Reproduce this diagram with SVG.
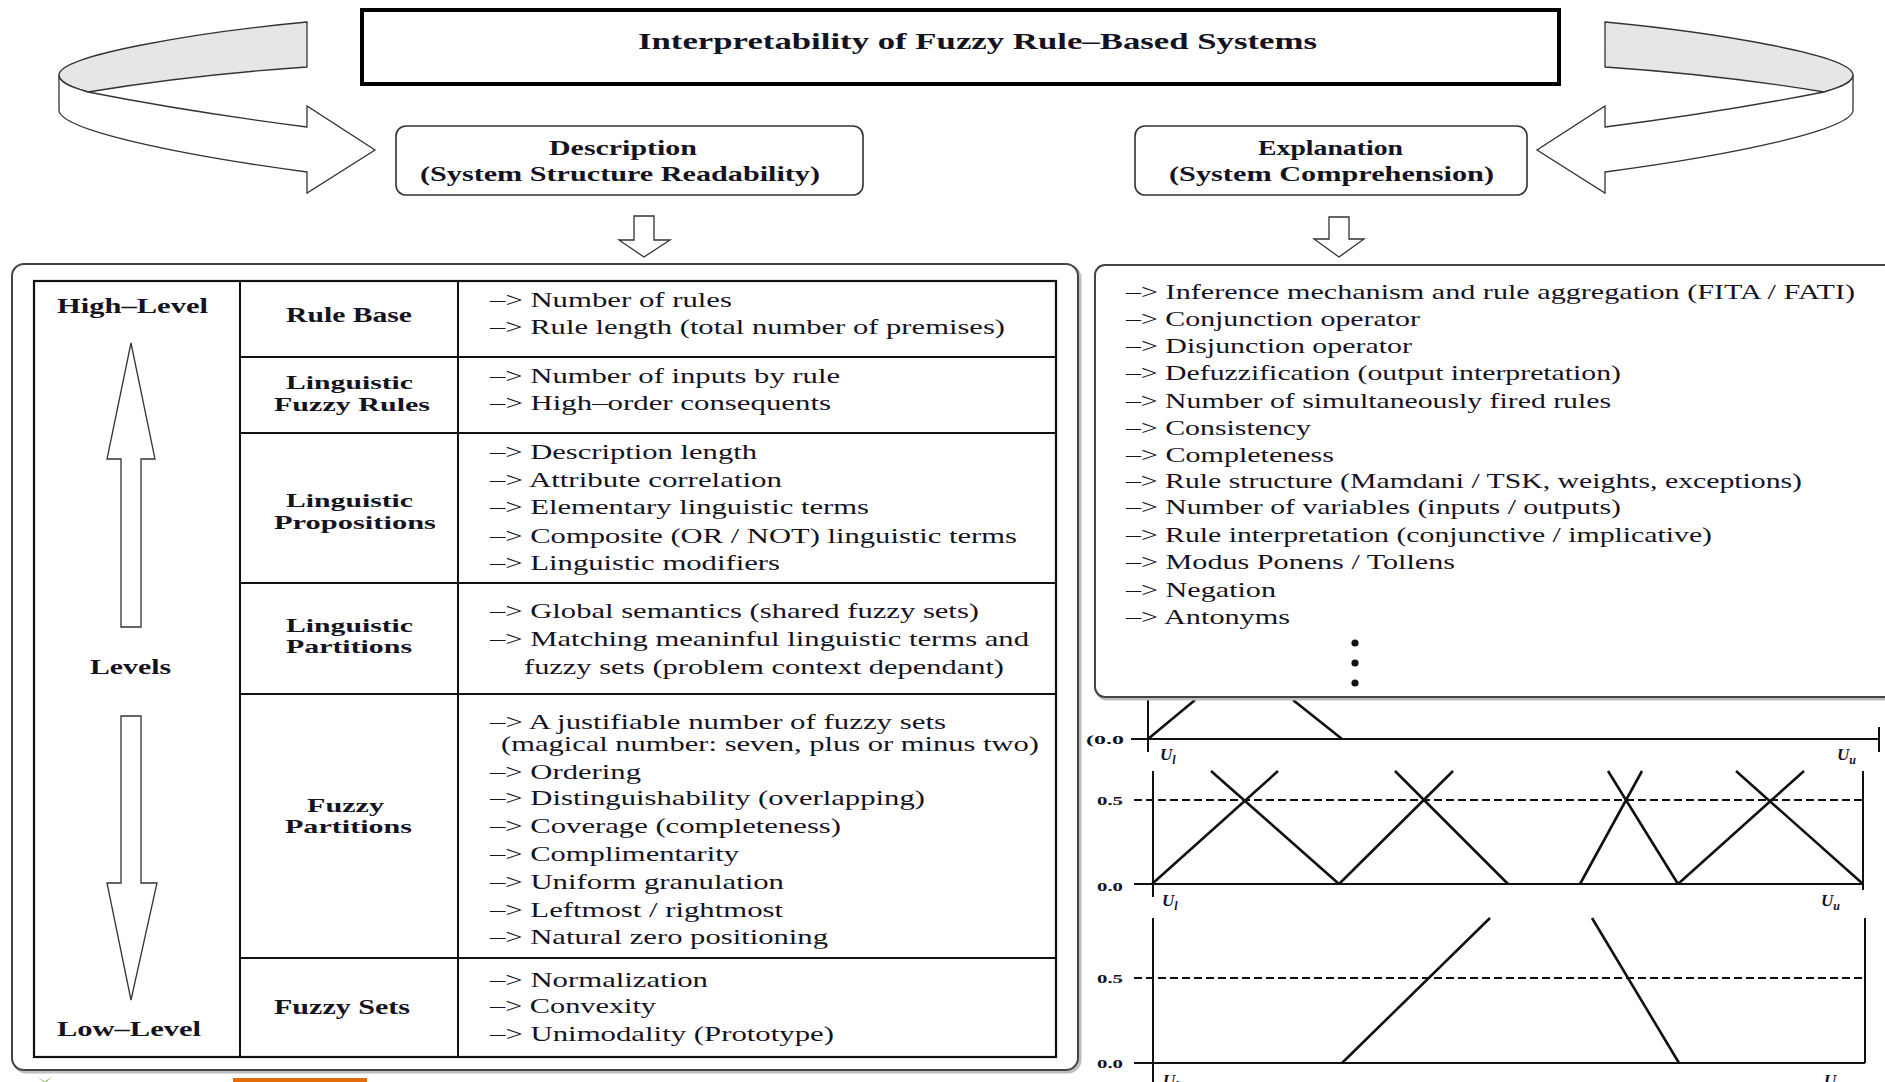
<svg xmlns="http://www.w3.org/2000/svg" width="1885" height="1082" viewBox="0 0 1885 1082">
<style>
.t{font-family:"Liberation Serif","Times New Roman",serif;fill:#15131f}
.b{font-weight:bold}
.f21{font-size:21px}
.f20{font-size:20px}
.f19{font-size:19px}
.f23{font-size:23px}
.lab{font-family:"Liberation Serif","Times New Roman",serif;font-weight:bold;font-size:13px;fill:#15131f}
.u{font-family:"Liberation Serif","Times New Roman",serif;font-weight:bold;font-style:italic;font-size:17px;fill:#15131f}
.ln{stroke:#111;stroke-width:2;fill:none}
.ax{stroke:#111;stroke-width:2;fill:none}
.mf{stroke:#111;stroke-width:2.6;fill:none}
.dash{stroke:#111;stroke-width:2;fill:none;stroke-dasharray:8 4}
.blk{fill:#fff;stroke:#333;stroke-width:1.3;stroke-linejoin:miter}
.rib{fill:#e6e6e6;stroke:#333;stroke-width:1.3}
.panel{fill:#fff;stroke:#444;stroke-width:2}
.shadow{fill:none;stroke:#bdbdbd;stroke-width:3}
</style>
<defs>
<g id="ribbon">
<path class="rib" d="M307,22 C200,32 59,55 59,75 C59,82 70,87 88,92 Q190,75 307,67 Z"/>
<path class="blk" d="M88,92 Q190,112 307,127 L307,106 L375,150 L307,193 L307,172 C180,155 59,130 59,110 L59,75 C59,82 70,87 88,92 Z"/>
</g>
</defs>
<rect width="1885" height="1082" fill="#fff"/>

<!-- fuzzy partition charts (drawn under the right panel) -->
<g id="charts">
<g id="chart1">
<path class="ax" d="M1131,739 H1879 M1148,697 V752 M1879,727 V752"/>
<path class="mf" d="M1148,739 L1195,700 M1293,700 L1342,739"/>
<text class="lab" x="1086" y="744" textLength="38" lengthAdjust="spacingAndGlyphs">(0.0</text>
<text class="u" x="1160" y="760">U<tspan font-size="12" dy="4">l</tspan></text>
<text class="u" x="1837" y="760">U<tspan font-size="12" dy="4">u</tspan></text>
</g>
<g id="chart2">
<path class="dash" d="M1134,800 H1863"/>
<path class="ax" d="M1134,884 H1863 M1153,771 V897 M1863,771 V890"/>
<path class="mf" d="M1152,884 L1278,771 M1339,884 L1211,771 M1339,884 L1453,771 M1508,884 L1395,771 M1580,884 L1642,771 M1678,884 L1608,771 M1678,884 L1804,771 M1863,884 L1736,771"/>
<text class="lab" x="1097" y="805" textLength="26" lengthAdjust="spacingAndGlyphs">0.5</text>
<text class="lab" x="1097" y="891" textLength="26" lengthAdjust="spacingAndGlyphs">0.0</text>
<text class="u" x="1162" y="906">U<tspan font-size="12" dy="4">l</tspan></text>
<text class="u" x="1821" y="906">U<tspan font-size="12" dy="4">u</tspan></text>
</g>
<g id="chart3">
<path class="dash" d="M1134,978 H1865"/>
<path class="ax" d="M1134,1063 H1865 M1153,918 V1082 M1865,918 V1063"/>
<path class="mf" d="M1342,1063 L1490,918 M1679,1063 L1592,918"/>
<text class="lab" x="1097" y="983" textLength="26" lengthAdjust="spacingAndGlyphs">0.5</text>
<text class="lab" x="1097" y="1068" textLength="26" lengthAdjust="spacingAndGlyphs">0.0</text>
<text class="u" x="1163" y="1086">U<tspan font-size="12" dy="4">l</tspan></text>
<text class="u" x="1824" y="1086">U<tspan font-size="12" dy="4">u</tspan></text>
</g>
</g>

<!-- title -->
<g id="title">
<rect x="362" y="10" width="1197" height="74" fill="#fff" stroke="#000" stroke-width="4"/>
<text class="t b f23" x="638" y="49" textLength="679" lengthAdjust="spacingAndGlyphs">Interpretability of Fuzzy Rule–Based Systems</text>
</g>

<g id="description">
<rect x="396" y="126" width="467" height="69" rx="10" fill="#fff" stroke="#333" stroke-width="1.6"/>
<text class="t b f20" x="549" y="155" textLength="148" lengthAdjust="spacingAndGlyphs">Description</text>
<text class="t b f20" x="420" y="181" textLength="400" lengthAdjust="spacingAndGlyphs">(System Structure Readability)</text>
</g>

<g id="explanation">
<rect x="1135" y="126" width="392" height="69" rx="10" fill="#fff" stroke="#333" stroke-width="1.6"/>
<text class="t b f20" x="1258" y="155" textLength="145" lengthAdjust="spacingAndGlyphs">Explanation</text>
<text class="t b f20" x="1169" y="181" textLength="325" lengthAdjust="spacingAndGlyphs">(System Comprehension)</text>
</g>

<!-- connectors -->
<g id="connectors">
<use href="#ribbon"/>
<use href="#ribbon" transform="matrix(-1 0 0 1 1912 0)"/>
<path class="blk" d="M634,216 H654 V240 H670 L644,257 L619,240 H634 Z"/>
<path class="blk" d="M1329,217 H1349 V239 H1364 L1339,257 L1314,239 H1329 Z"/>
</g>

<!-- left panel: description levels table -->
<g id="levels-panel">
<rect class="shadow" x="14" y="266" width="1066" height="806" rx="12"/>
<rect class="panel" x="12" y="264" width="1066" height="806" rx="12"/>
<rect x="34" y="281" width="1022" height="776" fill="none" stroke="#111" stroke-width="2.2"/>
<path class="ln" d="M240,281 V1057 M458,281 V1057 M240,357 H1056 M240,433 H1056 M240,583 H1056 M240,694 H1056 M240,958 H1056"/>
<g id="levels-axis">
<text class="t b f21" x="57" y="313" textLength="151" lengthAdjust="spacingAndGlyphs">High–Level</text>
<text class="t b f21" x="90" y="674" textLength="81" lengthAdjust="spacingAndGlyphs">Levels</text>
<text class="t b f21" x="57" y="1036" textLength="144" lengthAdjust="spacingAndGlyphs">Low–Level</text>
<path class="blk" d="M131,343 L155,459 H141 V627 H121 V459 H107 Z"/>
<path class="blk" d="M121,716 H141 V883 H157 L131,1000 L107,883 H121 Z"/>
</g>
<g id="row-rule-base">
<text class="t b f21" x="286" y="322" textLength="126" lengthAdjust="spacingAndGlyphs">Rule Base</text>
<text class="t f21" x="490" y="307" textLength="242" lengthAdjust="spacingAndGlyphs">–&gt; Number of rules</text>
<text class="t f21" x="490" y="334" textLength="515" lengthAdjust="spacingAndGlyphs">–&gt; Rule length (total number of premises)</text>
</g>
<g id="row-linguistic-fuzzy-rules">
<text class="t b f19" x="286" y="389" textLength="127" lengthAdjust="spacingAndGlyphs">Linguistic</text>
<text class="t b f19" x="274" y="411" textLength="156" lengthAdjust="spacingAndGlyphs">Fuzzy Rules</text>
<text class="t f21" x="490" y="383" textLength="350" lengthAdjust="spacingAndGlyphs">–&gt; Number of inputs by rule</text>
<text class="t f21" x="490" y="410" textLength="341" lengthAdjust="spacingAndGlyphs">–&gt; High–order consequents</text>
</g>
<g id="row-linguistic-propositions">
<text class="t b f19" x="286" y="507" textLength="127" lengthAdjust="spacingAndGlyphs">Linguistic</text>
<text class="t b f19" x="274" y="529" textLength="162" lengthAdjust="spacingAndGlyphs">Propositions</text>
<text class="t f21" x="490" y="459" textLength="267" lengthAdjust="spacingAndGlyphs">–&gt; Description length</text>
<text class="t f21" x="490" y="487" textLength="292" lengthAdjust="spacingAndGlyphs">–&gt; Attribute correlation</text>
<text class="t f21" x="490" y="514" textLength="379" lengthAdjust="spacingAndGlyphs">–&gt; Elementary linguistic terms</text>
<text class="t f21" x="490" y="543" textLength="527" lengthAdjust="spacingAndGlyphs">–&gt; Composite (OR / NOT) linguistic terms</text>
<text class="t f21" x="490" y="570" textLength="290" lengthAdjust="spacingAndGlyphs">–&gt; Linguistic modifiers</text>
</g>
<g id="row-linguistic-partitions">
<text class="t b f19" x="286" y="632" textLength="127" lengthAdjust="spacingAndGlyphs">Linguistic</text>
<text class="t b f19" x="286" y="653" textLength="126" lengthAdjust="spacingAndGlyphs">Partitions</text>
<text class="t f21" x="490" y="618" textLength="489" lengthAdjust="spacingAndGlyphs">–&gt; Global semantics (shared fuzzy sets)</text>
<text class="t f21" x="490" y="646" textLength="539" lengthAdjust="spacingAndGlyphs">–&gt; Matching meaninful linguistic terms and</text>
<text class="t f21" x="524" y="674" textLength="480" lengthAdjust="spacingAndGlyphs">fuzzy sets (problem context dependant)</text>
</g>
<g id="row-fuzzy-partitions">
<text class="t b f19" x="307" y="812" textLength="77" lengthAdjust="spacingAndGlyphs">Fuzzy</text>
<text class="t b f19" x="285" y="833" textLength="127" lengthAdjust="spacingAndGlyphs">Partitions</text>
<text class="t f21" x="490" y="729" textLength="456" lengthAdjust="spacingAndGlyphs">–&gt; A justifiable number of fuzzy sets</text>
<text class="t f21" x="501" y="751" textLength="538" lengthAdjust="spacingAndGlyphs">(magical number: seven, plus or minus two)</text>
<text class="t f21" x="490" y="779" textLength="151" lengthAdjust="spacingAndGlyphs">–&gt; Ordering</text>
<text class="t f21" x="490" y="805" textLength="435" lengthAdjust="spacingAndGlyphs">–&gt; Distinguishability (overlapping)</text>
<text class="t f21" x="490" y="833" textLength="351" lengthAdjust="spacingAndGlyphs">–&gt; Coverage (completeness)</text>
<text class="t f21" x="490" y="861" textLength="249" lengthAdjust="spacingAndGlyphs">–&gt; Complimentarity</text>
<text class="t f21" x="490" y="889" textLength="294" lengthAdjust="spacingAndGlyphs">–&gt; Uniform granulation</text>
<text class="t f21" x="490" y="917" textLength="293" lengthAdjust="spacingAndGlyphs">–&gt; Leftmost / rightmost</text>
<text class="t f21" x="490" y="944" textLength="338" lengthAdjust="spacingAndGlyphs">–&gt; Natural zero positioning</text>
</g>
<g id="row-fuzzy-sets">
<text class="t b f21" x="274" y="1014" textLength="136" lengthAdjust="spacingAndGlyphs">Fuzzy Sets</text>
<text class="t f21" x="490" y="987" textLength="218" lengthAdjust="spacingAndGlyphs">–&gt; Normalization</text>
<text class="t f21" x="490" y="1013" textLength="166" lengthAdjust="spacingAndGlyphs">–&gt; Convexity</text>
<text class="t f21" x="490" y="1041" textLength="344" lengthAdjust="spacingAndGlyphs">–&gt; Unimodality (Prototype)</text>
</g>
</g>

<!-- right panel: explanation list -->
<g id="explanation-panel">
<rect class="shadow" x="1097" y="267" width="830" height="432" rx="10"/>
<rect class="panel" x="1095" y="265" width="830" height="432" rx="10"/>
<text class="t f21" x="1126" y="299" textLength="729" lengthAdjust="spacingAndGlyphs">–&gt; Inference mechanism and rule aggregation (FITA / FATI)</text>
<text class="t f21" x="1126" y="326" textLength="294" lengthAdjust="spacingAndGlyphs">–&gt; Conjunction operator</text>
<text class="t f21" x="1126" y="353" textLength="286" lengthAdjust="spacingAndGlyphs">–&gt; Disjunction operator</text>
<text class="t f21" x="1126" y="380" textLength="495" lengthAdjust="spacingAndGlyphs">–&gt; Defuzzification (output interpretation)</text>
<text class="t f21" x="1126" y="408" textLength="485" lengthAdjust="spacingAndGlyphs">–&gt; Number of simultaneously fired rules</text>
<text class="t f21" x="1126" y="435" textLength="185" lengthAdjust="spacingAndGlyphs">–&gt; Consistency</text>
<text class="t f21" x="1126" y="462" textLength="208" lengthAdjust="spacingAndGlyphs">–&gt; Completeness</text>
<text class="t f21" x="1126" y="488" textLength="676" lengthAdjust="spacingAndGlyphs">–&gt; Rule structure (Mamdani / TSK, weights, exceptions)</text>
<text class="t f21" x="1126" y="514" textLength="495" lengthAdjust="spacingAndGlyphs">–&gt; Number of variables (inputs / outputs)</text>
<text class="t f21" x="1126" y="542" textLength="586" lengthAdjust="spacingAndGlyphs">–&gt; Rule interpretation (conjunctive / implicative)</text>
<text class="t f21" x="1126" y="569" textLength="329" lengthAdjust="spacingAndGlyphs">–&gt; Modus Ponens / Tollens</text>
<text class="t f21" x="1126" y="597" textLength="150" lengthAdjust="spacingAndGlyphs">–&gt; Negation</text>
<text class="t f21" x="1126" y="624" textLength="164" lengthAdjust="spacingAndGlyphs">–&gt; Antonyms</text>
<circle cx="1355" cy="643" r="3.6" fill="#111"/>
<circle cx="1355" cy="663" r="3.6" fill="#111"/>
<circle cx="1355" cy="683" r="3.6" fill="#111"/>
</g>

<!-- slide artifacts at the bottom edge -->
<g id="slide-marks">
<rect x="233" y="1078" width="134" height="4" fill="#e46c0a"/>
<path d="M37,1077 L44,1082 L53,1076 L46,1082 Z" fill="#7ab648"/>
</g>
</svg>
